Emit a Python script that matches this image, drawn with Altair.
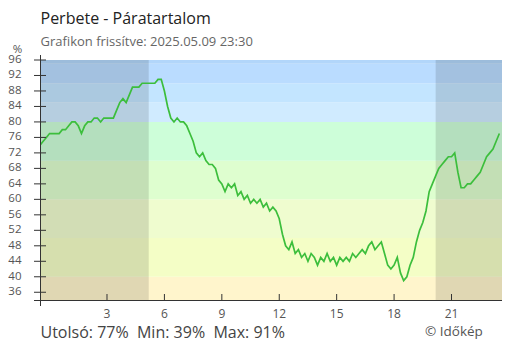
import altair as alt
import pandas as pd

# humidity (%) every 10 minutes, from 23:30 of the previous day to 23:30
humidity = [
    74, 75, 76, 77, 77, 77,
    77, 78, 78, 79, 80, 80,
    79, 77, 79, 80, 80, 81,
    81, 80, 81, 81, 81, 81,
    83, 85, 86, 85, 87, 89,
    89, 89, 90, 90, 90, 90,
    90, 91, 91, 88, 84, 81,
    80, 81, 80, 80, 79, 77,
    75, 72, 71, 72, 70, 69,
    69, 68, 65, 64, 62, 64,
    63, 64, 61, 62, 60, 61,
    59, 60, 59, 60, 58, 59,
    57, 58, 57, 55, 51, 48,
    47, 49, 46, 47, 45, 46,
    44, 46, 45, 43, 45, 44,
    46, 44, 45, 43, 45, 44,
    45, 44, 46, 45, 46, 47,
    46, 48, 49, 47, 48, 49,
    46, 43, 42, 43, 45, 41,
    39, 40, 43, 45, 49, 52,
    54, 57, 62, 64, 66, 68,
    69, 70, 71, 71, 72, 67,
    63, 63, 64, 64, 65, 66,
    67, 69, 71, 72, 73, 75,
    77,
]
start_hour = -0.5
step_hours = 1 / 6
hours = [start_hour + i * step_hours for i in range(len(humidity))]

y_ticks = [36, 40, 44, 48, 52, 56, 60, 64, 68, 72, 76, 80, 84, 88, 92, 96]
x_ticks = [3, 6, 9, 12, 15, 18, 21]

band_lo = [34, 40, 50, 60, 70, 80, 85, 90, 95]
band_hi = [40, 50, 60, 70, 80, 85, 90, 95, 100]
band_colors = ["#fff5cc", "#f4fec6", "#effccf", "#defecf", "#cdfed9",
               "#d0ebff", "#c3e5ff", "#badcff", "#b2d6fa"]

night_start = [-0.5, 20.17]
night_end = [5.18, 24.0]

title_text = "Perbete - Páratartalom"
subtitle_text = "Grafikon frissítve: 2025.05.09 23:30"
stats_text = "Utolsó: 77%\u00a0 Min: 39%\u00a0 Max: 91%"
credit_text = "© Időkép"

W, H = 462, 240
FONT = "Open Sans"
PX_PER_HOUR = 19.14

X = alt.Scale(domain=[-0.5, -0.5 + W / PX_PER_HOUR], nice=False, zero=False)
Y = alt.Scale(domain=[34, 96], nice=False, zero=False)

line_df = pd.DataFrame({"h": hours, "v": humidity})
band_df = pd.DataFrame({"lo": band_lo, "hi": band_hi, "c": band_colors})
night_df = pd.DataFrame({"s": night_start, "e": night_end})
yt_df = pd.DataFrame({"t": y_ticks})
xt_df = pd.DataFrame({"t": x_ticks})
one = alt.Data(values=[{"a": 1}])

bands = alt.Chart(band_df).mark_rect(clip=True).encode(
    x=alt.value(0), x2=alt.value(W),
    y=alt.Y("lo:Q", scale=Y, axis=None), y2="hi:Q",
    color=alt.Color("c:N", scale=None),
)

night = alt.Chart(night_df).mark_rect(color="black", opacity=0.12, clip=True).encode(
    x=alt.X("s:Q", scale=X, axis=None), x2="e:Q",
    y=alt.value(0), y2=alt.value(H),
)

line = alt.Chart(line_df).mark_line(color="#3cbe3c", strokeWidth=1.7, clip=True).encode(
    x=alt.X("h:Q", scale=X, axis=None),
    y=alt.Y("v:Q", scale=Y, axis=None),
)

y_tick_marks = alt.Chart(yt_df).mark_rule(color="#333").encode(
    y=alt.Y("t:Q", scale=Y, axis=None), x=alt.value(-6), x2=alt.value(6))
y_tick_labels = alt.Chart(yt_df).mark_text(
    align="right", baseline="middle", font=FONT, fontSize=11.5, color="#555"
).encode(y=alt.Y("t:Q", scale=Y, axis=None), x=alt.value(-18.5), text="t:Q")

x_tick_marks = alt.Chart(xt_df).mark_rule(color="#333").encode(
    x=alt.X("t:Q", scale=X, axis=None), y=alt.value(H - 6), y2=alt.value(H))
x_tick_labels = alt.Chart(xt_df).mark_text(
    align="center", baseline="top", font=FONT, fontSize=12, color="#555"
).encode(x=alt.X("t:Q", scale=X, axis=None), y=alt.value(H + 9), text="t:Q")

y_axis_line = alt.Chart(one).mark_rule(color="#333").encode(
    x=alt.value(0.5), y=alt.value(-5), y2=alt.value(H + 6))
x_axis_line = alt.Chart(one).mark_rule(color="#333").encode(
    y=alt.value(H + 0.5), x=alt.value(-6), x2=alt.value(W))


def txt(text, x, y, size, color, align="left"):
    return alt.Chart(one).mark_text(
        text=text, align=align, baseline="alphabetic", font=FONT,
        fontSize=size, color=color,
    ).encode(x=alt.value(x), y=alt.value(y))


texts = [
    txt(title_text, 0.5, -36.5, 16, "#222"),
    txt(subtitle_text, 0.5, -14.5, 13, "#666"),
    txt("%", -22.5, -7.5, 11.5, "#555", align="center"),
    txt(stats_text, 0.5, 278, 16, "#444"),
    txt(credit_text, 385, 276, 13.5, "#555"),
]

chart = alt.layer(
    bands, night, line, y_tick_marks, y_tick_labels, x_tick_marks,
    x_tick_labels, y_axis_line, x_axis_line, *texts
).properties(
    width=W, height=H,
    padding={"left": 32, "top": 52, "right": 0, "bottom": 42},
    autosize=alt.AutoSizeParams(type="none"),
).configure_view(stroke=None)

chart.save("out.html", embed_options={"renderer": "svg", "actions": False})
